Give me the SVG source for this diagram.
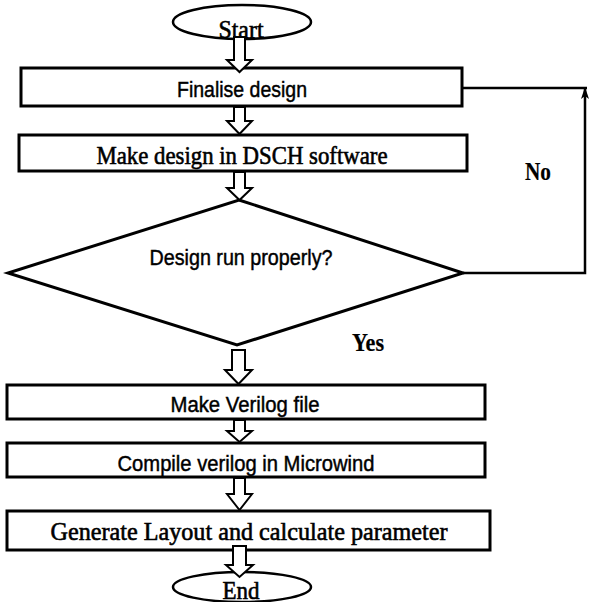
<svg xmlns="http://www.w3.org/2000/svg" width="590" height="602" viewBox="0 0 590 602">
<style>
.box{fill:#fff;stroke:#000;stroke-width:3}
.term{fill:#fff;stroke:#000;stroke-width:2.5}
.blk{fill:#fff;stroke:#000;stroke-width:2;stroke-linejoin:miter}
.ln{fill:none;stroke:#000;stroke-width:2.5}
.sans{font-family:"Liberation Sans",Arial,sans-serif;font-size:22px;fill:#000;stroke:#000;stroke-width:0.45;text-anchor:middle}
.serif{font-family:"Liberation Serif","Times New Roman",serif;font-size:25px;fill:#000;stroke:#000;stroke-width:0.6;text-anchor:middle}
.bold{font-weight:bold;stroke-width:0.2}
</style>
<defs>
<marker id="ah" viewBox="0 0 12 8" refX="12" refY="4" markerWidth="12" markerHeight="8" markerUnits="userSpaceOnUse" orient="auto">
<path d="M0,0 L12,4 L0,8 L3,4 Z" fill="#000"/>
</marker>
</defs>
<rect width="590" height="602" fill="#fff"/>
<g id="start">
<ellipse class="term" cx="242" cy="22" rx="69" ry="17"/>
<text class="serif" x="241" y="38" textLength="45" lengthAdjust="spacingAndGlyphs">Start</text>
</g>
<g id="finalise">
<rect class="box" x="21" y="68" width="441" height="38"/>
<text class="sans" x="242" y="97" textLength="130" lengthAdjust="spacingAndGlyphs">Finalise design</text>
</g>
<g id="dsch">
<rect class="box" x="19" y="135" width="448" height="36"/>
<text class="serif" x="242" y="164" textLength="291" lengthAdjust="spacingAndGlyphs">Make design in DSCH software</text>
</g>
<g id="decision">
<polygon class="box" points="239,200 463,273 237,345 8,273"/>
<text class="sans" x="241" y="265" textLength="183" lengthAdjust="spacingAndGlyphs">Design run properly?</text>
</g>
<g id="verilog">
<rect class="box" x="7" y="385" width="478" height="34"/>
<text class="sans" x="245" y="412" textLength="149" lengthAdjust="spacingAndGlyphs">Make Verilog file</text>
</g>
<g id="compile">
<rect class="box" x="7" y="443" width="478" height="34"/>
<text class="sans" x="246" y="471" textLength="257" lengthAdjust="spacingAndGlyphs">Compile verilog in Microwind</text>
</g>
<g id="generate">
<rect class="box" x="7" y="511" width="483" height="39"/>
<text class="serif" x="249" y="540" textLength="397" lengthAdjust="spacingAndGlyphs">Generate Layout and calculate parameter</text>
</g>
<g id="end">
<ellipse class="term" cx="242" cy="587" rx="69" ry="15"/>
<text class="serif" x="241" y="599" textLength="37" lengthAdjust="spacingAndGlyphs">End</text>
</g>
<g id="connectors">
<polygon class="blk" points="234,37 245,37 245,60 252,60 239.5,72 227,60 234,60"/>
<polygon class="blk" points="234,107 245,107 245,121 252,121 239.5,134 227,121 234,121"/>
<polygon class="blk" points="234,172 245,172 245,188 252,188 239.5,200 227,188 234,188"/>
<polygon class="blk" points="232,350 245,350 245,370 252,370 238.5,384 225,370 232,370"/>
<polygon class="blk" points="234,420 245,420 245,431 252,431 239.5,442 227,431 234,431"/>
<polygon class="blk" points="234,478 245,478 245,494 252,494 239.5,510 227,494 234,494"/>
<polygon class="blk" points="233,546 246,546 246,565 253,565 239.5,577 226,565 233,565"/>
<polyline class="ln" points="463,88 587,88"/>
<polyline class="ln" points="463,273 585,273 585,87" marker-end="url(#ah)"/>
<text class="serif bold" x="538" y="180" textLength="26" lengthAdjust="spacingAndGlyphs">No</text>
<text class="serif bold" x="368" y="351" textLength="32" lengthAdjust="spacingAndGlyphs">Yes</text>
</g>
</svg>
